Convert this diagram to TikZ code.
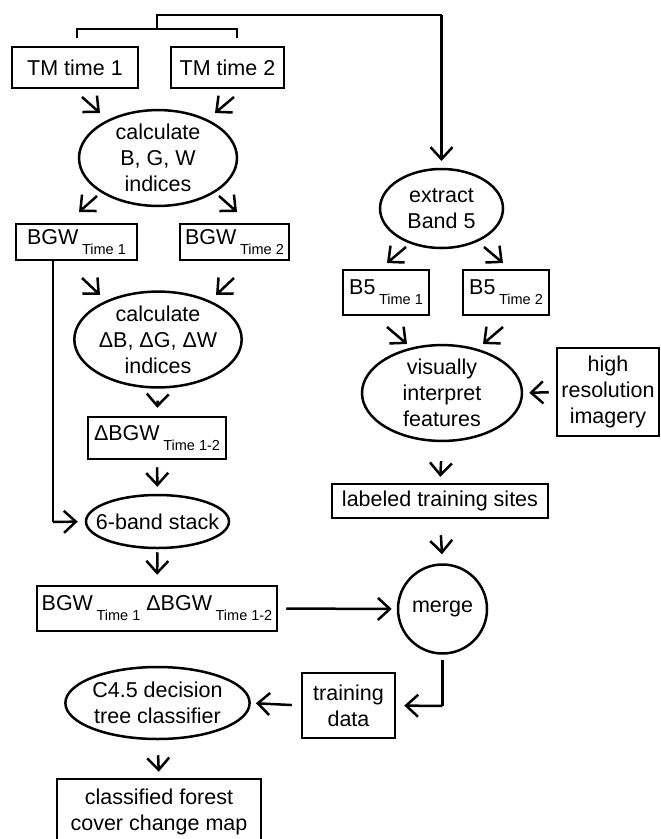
\documentclass[tikz,border=0pt]{standalone}
\usepackage{fontspec}
\setmainfont{Liberation Sans}
\usetikzlibrary{arrows.meta,shapes.geometric}
\newcommand{\subtm}[1]{\,\raisebox{-10pt}{\fontsize{14.5}{14.5}\selectfont #1}}
\begin{document}
\begin{tikzpicture}[x=1pt,y=-1pt,
  font=\fontsize{21.5}{26}\selectfont,
  box/.style={draw, line width=2.5pt, rectangle, inner sep=0pt, align=center},
  ell/.style={draw, line width=2.5pt, ellipse, inner sep=0pt, align=center},
  arr/.style={line width=2.5pt, -{Straight Barb[length=12pt,width=22pt]}},
  ln/.style={line width=2.5pt, line join=miter}]
\useasboundingbox (0,0) rectangle (661,839);
\fill[white] (0,0) rectangle (661,839);

% left column
\node[box, minimum width=126pt, minimum height=41pt] (tm1) at (75,67.5) {TM time 1};
\node[box, minimum width=113pt, minimum height=41pt] (tm2) at (227.5,67.5) {TM time 2};
\node[ell, minimum width=158pt, minimum height=80pt] (calc1) at (158,158) {calculate\\B, G, W\\indices};
\node[box, minimum width=121pt, minimum height=36pt] (bgw1) at (76.5,242) {BGW\subtm{Time 1}};
\node[box, minimum width=109pt, minimum height=36pt] (bgw2) at (234.5,242) {BGW\subtm{Time 2}};
\node[ell, minimum width=158pt, minimum height=79pt] (calc2) at (158,339.5) {calculate\\ΔB, ΔG, ΔW\\indices};
\node[box, minimum width=138pt, minimum height=42pt] (dbgw) at (157,438) {ΔBGW\subtm{Time 1-2}};
\node[ell, minimum width=143pt, minimum height=53pt] (stack) at (157.5,521.5) {\makebox[0pt][c]{6-band stack}};
\node[box, minimum width=240pt, minimum height=45pt] (comb) at (157,608.5) {BGW\subtm{Time 1} ΔBGW\subtm{Time 1-2}};
\node[ell, minimum width=179pt, minimum height=72pt] (c45) at (157.5,703) {C4.5 decision\\tree classifier};
\node[box, minimum width=204pt, minimum height=66pt] (map) at (159,812) {classified forest\\cover change map};

% right column
\node[ell, minimum width=123pt, minimum height=79pt] (extract) at (441.5,208.5) {extract\\Band 5};
\node[box, minimum width=86pt, minimum height=45pt] (b5a) at (386,292.5) {B5\subtm{Time 1}};
\node[box, minimum width=86pt, minimum height=45pt] (b5b) at (506,292.5) {B5\subtm{Time 2}};
\node[ell, minimum width=160pt, minimum height=90pt] (visual) at (442,393) {visually\\interpret\\features};
\node[box, minimum width=102pt, minimum height=88pt] (hires) at (608,392) {high\\resolution\\imagery};
\node[box, minimum width=216pt, minimum height=34pt] (labeled) at (440,501) {labeled training sites};
\node[draw, line width=2.5pt, circle, inner sep=0pt, minimum size=89pt] (merge) at (442.5,609) {merge};
\node[box, minimum width=93pt, minimum height=65pt] (train) at (348.5,705.5) {training\\data};

% coordinates for free connector ends
\coordinate (k1) at (77,38);
\coordinate (k2) at (237,38);
\coordinate (kb) at (77,29);
\coordinate (kc) at (237,29);
\coordinate (km) at (157,29);
\coordinate (kt) at (157,15);
\coordinate (kr) at (441.5,15);
\coordinate (kx) at (441.5,161);

\coordinate (a1s) at (82,97);   \coordinate (a1e) at (100,113);
\coordinate (a2s) at (234,97);  \coordinate (a2e) at (215,113);
\coordinate (a3s) at (97,196);  \coordinate (a3e) at (79,212);
\coordinate (a4s) at (219,196); \coordinate (a4e) at (237,212);
\coordinate (a5s) at (82,278);  \coordinate (a5e) at (100,295);
\coordinate (a6s) at (234,278); \coordinate (a6e) at (216,295);
\coordinate (a7s) at (406,247); \coordinate (a7e) at (387,263);
\coordinate (a8s) at (484,247); \coordinate (a8e) at (503,263);
\coordinate (a9s) at (387,327); \coordinate (a9e) at (407,344);
\coordinate (a10s) at (503,327); \coordinate (a10e) at (483,344);

\coordinate (lv) at (53,260);
\coordinate (lc) at (53,522);
\coordinate (ms) at (442.5,660);
\coordinate (mc) at (442.5,706);

% top bracket
\draw[ln] (k1) -- (kb) -- (kc) -- (k2);
\draw[ln] (km) -- (kt) -- (kr);
\draw[arr] (kr) -- (kx);

% diagonal arrows
\draw[arr] (a1s) -- (a1e);
\draw[arr] (a2s) -- (a2e);
\draw[arr] (a3s) -- (a3e);
\draw[arr] (a4s) -- (a4e);
\draw[arr] (a5s) -- (a5e);
\draw[arr] (a6s) -- (a6e);
\draw[arr] (a7s) -- (a7e);
\draw[arr] (a8s) -- (a8e);
\draw[arr] (a9s) -- (a9e);
\draw[arr] (a10s) -- (a10e);

% vertical / horizontal arrows
\draw[arr, shorten <=12pt, shorten >=8pt] (calc2.south) -- (dbgw.north);
\draw[arr, shorten <=7pt, shorten >=7pt] (dbgw.south) -- (stack.north);
\draw[arr, shorten <=3pt, shorten >=10pt] (stack.south) -- (comb.north);
\draw[arr, shorten <=15pt, shorten >=6pt] (c45.south) -- (map.north);
\draw[arr, shorten <=19pt, shorten >=6pt] (visual.south) -- (labeled.north);
\draw[arr, shorten <=16pt, shorten >=9pt] (labeled.south) -- (merge.north);
\draw[arr, shorten <=7pt, shorten >=6pt] (hires.west) -- (visual.east);
\draw[arr, shorten <=8pt, shorten >=5pt] (comb.east) -- (merge.west);
\draw[arr, shorten <=9pt, shorten >=5pt] (train.west) -- (c45.east);
\draw[ln] (bgw1.south -| lv) -- (lc);
\draw[arr, shorten >=7pt] (lc) -- (stack.west);
\draw[ln] (ms) -- (mc);
\draw[arr, shorten >=8pt] (mc) -- (train.east);
\end{tikzpicture}
\end{document}
